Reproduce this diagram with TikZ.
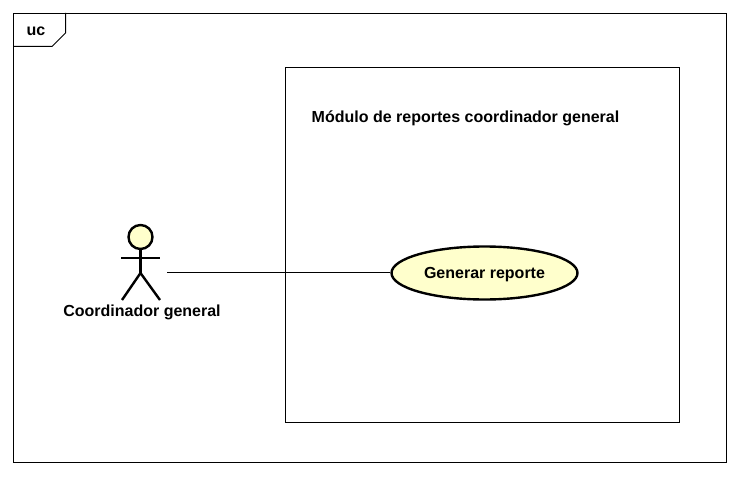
\documentclass[tikz,border=0pt]{standalone}
\usepackage{fontspec}
\setmainfont{Liberation Sans}
\usetikzlibrary{positioning, shapes.geometric}
\definecolor{ucfill}{HTML}{FFFFCC}

\begin{document}
\begin{tikzpicture}[x=1pt, y=-1pt]
    \tikzset{
        every node/.style={font=\fontsize{16}{18}\selectfont\bfseries, inner sep=0pt, text depth=0pt}, % all labels are bold
        box/.style={draw, line width=1pt, minimum width=#1, anchor=north west}, % plain frames
        usecase/.style={ellipse, draw, line width=2.4pt, fill=ucfill, minimum width=186pt, minimum height=53pt},
        actorline/.style={line width=2.4pt},
        link/.style={line width=1pt},
    }
    \useasboundingbox (0,0) rectangle (738,476);

    \node[box=713pt, minimum height=449pt] (frame) at (13,13) {};
    \node[box=394pt, minimum height=355pt] (system) at (285,67) {};
    \node (systemname) at (465.5,116.5) {Módulo de reportes coordinador general};

    \node[usecase] (report) at (484.5,273) {Generar reporte};

    \node[circle, draw, actorline, fill=ucfill, minimum size=24pt] (head) at (140.5,237) {};
    \coordinate (hip) at (140.5,273);
    \coordinate (arml) at (121,258);
    \coordinate (armr) at (160,258);
    \coordinate (legl) at (122,300);
    \coordinate (legr) at (160,300);
    \coordinate (actorend) at (167,272);
    \node (actorname) at (142,310.5) {Coordinador general};

    % frame tag
    \coordinate (tagtop) at (65.5,13);
    \coordinate (tagleft) at (13,46.5);
    \node (tag) at (36,31.5) {uc};
    \draw[link] (tagtop) -- (65.5,33) -- (52,46.5) -- (tagleft);

    \draw[actorline] (head) -- (hip);
    \draw[actorline] (arml) -- (armr);
    \draw[actorline] (legl) -- (hip) -- (legr);

    \draw[link] (actorend) -- (actorend -| report.west);
\end{tikzpicture}
\end{document}
